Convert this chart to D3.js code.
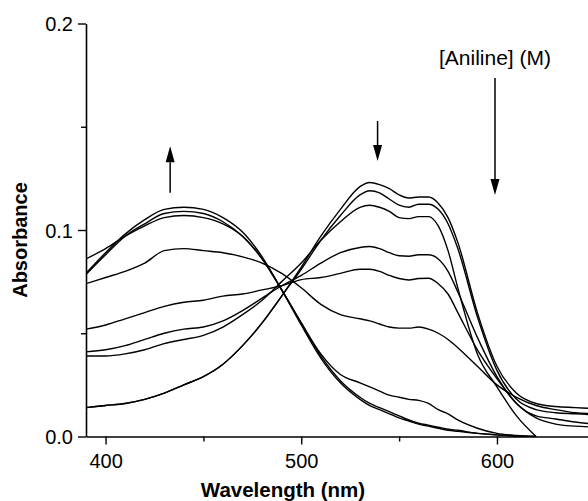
<!DOCTYPE html>
<html>
<head>
<meta charset="utf-8">
<script src="https://cdn.jsdelivr.net/npm/d3@7"></script>
<style>
  html, body { margin: 0; padding: 0; background: #fff; }
  svg { display: block; font-family: "Liberation Sans", Arial, sans-serif; }
</style>
</head>
<body>
<svg id="chart" width="588" height="501"></svg>
<script>
// ---- data ----
const wavelengths = [390,400,410,420,430,440,450,460,470,480,490,500,510,520,530,535,540,545,550,555,560,565,570,575,580,590,600,610,620,630,640,650];

const spectrum1 = [0.014,0.015,0.016,0.018,0.021,0.025,0.029,0.035,0.044,0.055,0.068,0.082,0.097,0.110,0.121,0.123,0.122,0.120,0.117,0.1155,0.116,0.116,0.113,0.106,0.094,0.060,0.034,0.021,0.016,0.0145,0.014,0.0135];
const spectrum2 = [0.014,0.015,0.016,0.018,0.021,0.025,0.029,0.035,0.044,0.055,0.068,0.081,0.095,0.107,0.117,0.119,0.118,0.115,0.112,0.111,0.1125,0.1125,0.110,0.103,0.091,0.058,0.032,0.018,0.013,0.0115,0.011,0.0105];
const spectrum3 = [0.039,0.039,0.040,0.042,0.045,0.047,0.049,0.053,0.059,0.066,0.075,0.084,0.095,0.104,0.111,0.112,0.111,0.109,0.106,0.1055,0.1065,0.1065,0.102,0.090,0.072,0.040,0.024,0.010,0.000,null,null,null];
const spectrum4 = [0.041,0.042,0.044,0.047,0.050,0.052,0.053,0.056,0.061,0.067,0.073,0.078,0.084,0.089,0.0915,0.092,0.091,0.089,0.0875,0.0873,0.088,0.088,0.086,0.080,0.070,0.048,0.029,0.016,0.010,0.0085,0.007,0.006];
const spectrum5 = [0.052,0.054,0.057,0.060,0.063,0.065,0.066,0.068,0.069,0.071,0.073,0.076,0.077,0.079,0.081,0.081,0.080,0.078,0.0765,0.0758,0.0765,0.0766,0.074,0.069,0.060,0.042,0.028,0.016,0.009,0.006,0.005,0.0045];
const spectrum6 = [0.074,0.077,0.080,0.084,0.090,0.091,0.090,0.089,0.087,0.084,0.079,0.072,0.064,0.059,0.057,0.056,0.0545,0.053,0.0525,0.0525,0.053,0.052,0.050,0.047,0.043,0.034,0.025,0.019,0.015,0.013,0.0115,0.011];
const spectrum7 = [0.0785,0.088,0.097,0.103,0.108,0.109,0.108,0.104,0.097,0.086,0.071,0.055,0.040,0.030,0.026,0.024,0.022,0.020,0.019,0.018,0.0175,0.016,0.013,0.011,0.008,0.004,0.0015,0.0005,0.000,null,null,null];
const spectrum8 = [0.079,0.089,0.098,0.105,0.110,0.111,0.110,0.106,0.099,0.087,0.071,0.054,0.038,0.026,0.018,0.015,0.013,0.011,0.009,0.0075,0.006,0.005,0.004,0.003,0.0025,0.0015,0.0008,0.0003,0.000,null,null,null];
const spectrum9 = [0.086,0.091,0.097,0.102,0.106,0.107,0.106,0.103,0.097,0.086,0.071,0.055,0.039,0.027,0.019,0.016,0.014,0.012,0.010,0.008,0.0065,0.0055,0.0045,0.0035,0.003,0.0015,0.0008,0.0002,0.000,null,null,null];

const seriesList = [spectrum1, spectrum2, spectrum3, spectrum4, spectrum5, spectrum6, spectrum7, spectrum8, spectrum9];

const xTicks = [400, 500, 600];
const xMinorTicks = [450, 550];
const yTicks = [0.0, 0.1, 0.2];
const yMinorTicks = [0.05, 0.15];

// annotation arrows: [wavelength, fromAbs, toAbs]
const arrows = [[433, 0.118, 0.1405], [539, 0.1528, 0.1334], [599, 0.1736, 0.117]];
const legendTitle = "[Aniline] (M)";
const legendPos = [599, 0.1800];

// ---- drawing ----
const svg = d3.select("#chart");
const x = d3.scaleLinear().domain([390, 650]).range([86, 594.8]);
const y = d3.scaleLinear().domain([0, 0.2]).range([436.5, 23.5]);

svg.append("defs").append("clipPath").attr("id", "clip")
  .append("rect").attr("x", 86).attr("y", 0).attr("width", 510).attr("height", 437);

const line = d3.line()
  .defined(d => d[1] !== null)
  .x(d => x(d[0]))
  .y(d => y(d[1]))
  .curve(d3.curveMonotoneX);

const plot = svg.append("g").attr("clip-path", "url(#clip)");
seriesList.forEach(s => {
  plot.append("path")
    .datum(wavelengths.map((w, i) => [w, s[i]]))
    .attr("d", line)
    .attr("fill", "none")
    .attr("stroke", "#000")
    .attr("stroke-width", 1.4);
});

// axes
const xAxis = svg.append("g").attr("transform", `translate(0,${y(0)})`)
  .call(d3.axisBottom(x).tickValues(xTicks).tickFormat(d3.format("d")).tickSize(8).tickSizeOuter(0));
svg.append("g").attr("transform", `translate(0,${y(0)})`)
  .call(d3.axisBottom(x).tickValues(xMinorTicks).tickFormat("").tickSize(5).tickSizeOuter(0))
  .select(".domain").remove();
const yAxis = svg.append("g").attr("transform", `translate(${x(390)},0)`)
  .call(d3.axisLeft(y).tickValues(yTicks).tickFormat(d3.format(".1f")).tickSize(8).tickSizeOuter(0));
svg.append("g").attr("transform", `translate(${x(390)},0)`)
  .call(d3.axisLeft(y).tickValues(yMinorTicks).tickFormat("").tickSize(5).tickSizeOuter(0))
  .select(".domain").remove();

svg.selectAll(".domain").attr("stroke", "#000").attr("stroke-width", 1.6);
svg.selectAll(".tick line").attr("stroke", "#000").attr("stroke-width", 1.4);
svg.selectAll(".tick text").attr("font-size", 20).attr("fill", "#000")
  .attr("font-family", "Liberation Sans, Arial, sans-serif");
xAxis.selectAll(".tick text").attr("dy", "1.0em");
yAxis.selectAll(".tick text").attr("x", -13).attr("dy", "0.36em");

// axis titles
svg.append("text")
  .attr("x", 283).attr("y", 497)
  .attr("text-anchor", "middle")
  .attr("font-size", 20.5).attr("font-weight", "bold")
  .text("Wavelength (nm)");
svg.append("text")
  .attr("transform", "translate(27,240) rotate(-90)")
  .attr("text-anchor", "middle")
  .attr("font-size", 20).attr("font-weight", "bold")
  .text("Absorbance");

// arrows
arrows.forEach(([w, a0, a1]) => {
  const xp = x(w), y0 = y(a0), y1 = y(a1);
  const dir = y1 < y0 ? -1 : 1; // -1 up
  const headLen = 16, headW = 4.5;
  const yb = y1 - dir * headLen;
  svg.append("line").attr("x1", xp).attr("x2", xp).attr("y1", y0).attr("y2", yb)
    .attr("stroke", "#000").attr("stroke-width", 1.5);
  svg.append("path")
    .attr("d", `M${xp - headW},${yb} L${xp + headW},${yb} L${xp},${y1} Z`)
    .attr("fill", "#000");
});

svg.append("text")
  .attr("x", x(legendPos[0])).attr("y", y(legendPos[1]))
  .attr("text-anchor", "middle")
  .attr("font-size", 21)
  .text(legendTitle);
</script>
</body>
</html>
